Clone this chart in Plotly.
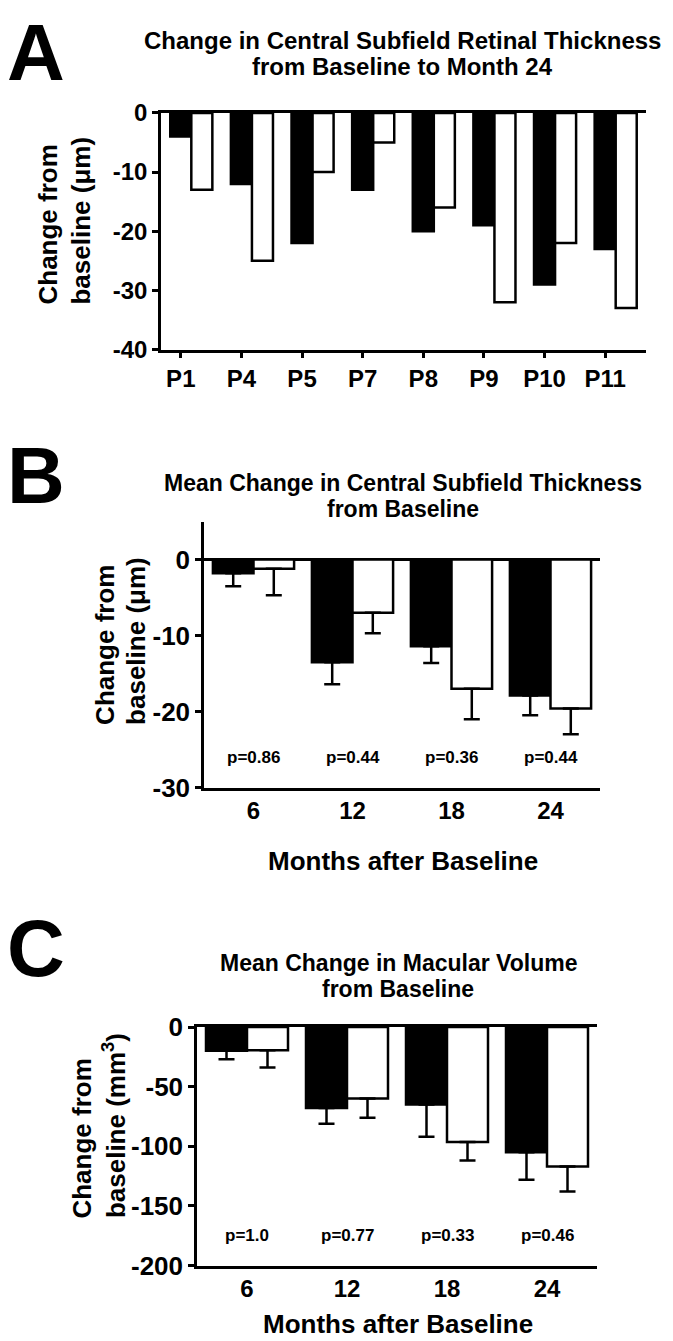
import plotly.graph_objects as go

# ---------------- data ----------------
patients = ["P1", "P4", "P5", "P7", "P8", "P9", "P10", "P11"]
a_black = [-4, -12, -22, -13, -20, -19, -29, -23]
a_white = [-13, -25, -10, -5, -16, -32, -22, -33]
a_ticks = [0, -10, -20, -30, -40]
a_ticktext = ["0", "-10", "-20", "-30", "-40"]

months = ["6", "12", "18", "24"]
b_black = [-1.8, -13.5, -11.4, -17.9]
b_black_err = [1.7, 2.9, 2.2, 2.6]
b_white = [-1.2, -7.0, -17.0, -19.6]
b_white_err = [3.5, 2.7, 4.0, 3.4]
b_pvals = ["p=0.86", "p=0.44", "p=0.36", "p=0.44"]
b_ticks = [0, -10, -20, -30]
b_ticktext = ["0", "-10", "-20", "-30"]

c_black = [-20, -68, -65, -105]
c_black_err = [7, 13, 27, 23]
c_white = [-19.5, -60, -96.5, -117]
c_white_err = [14.5, 16, 15.5, 21]
c_pvals = ["p=1.0", "p=0.77", "p=0.33", "p=0.46"]
c_ticks = [0, -50, -100, -150, -200]
c_ticktext = ["0", "-50", "-100", "-150", "-200"]

W, H = 673, 1341
REG = "Liberation Sans, Arial, sans-serif"
LW = 2.5


def px(x):
    return x / W


def py(y):
    return 1 - y / H


fig = go.Figure()


def bars(x, y, fill, width, offset, xa, ya, err=None):
    kw = {}
    if err is not None:
        kw["error_y"] = dict(type="data", symmetric=False, array=[0] * len(err), arrayminus=err,
                             color="black", thickness=LW, width=8)
    fig.add_trace(go.Bar(x=x, y=y, width=width, offset=offset,
                         marker=dict(color=fill, line=dict(color="black", width=LW)),
                         xaxis=xa, yaxis=ya, showlegend=False, hoverinfo="skip", **kw))


# ---- Panel A ----
ia = list(range(len(patients)))
wa = 0.347
bars(ia, a_black, "black", wa, -wa, "x", "y")
bars(ia, a_white, "white", wa, 0, "x", "y")

# ---- Panel B ----
ib = list(range(len(months)))
wb = 0.41
bars(ib, b_black, "black", wb, -wb, "x2", "y2", b_black_err)
bars(ib, b_white, "white", wb, 0, "x2", "y2", b_white_err)

# ---- Panel C ----
bars(ib, c_black, "black", wb, -wb, "x3", "y3", c_black_err)
bars(ib, c_white, "white", wb, 0, "x3", "y3", c_white_err)

axis_common = dict(showgrid=False, zeroline=False, showline=True, linecolor="black", linewidth=LW,
                   tickcolor="black", tickwidth=LW, fixedrange=True)
tf24 = dict(family=REG, size=24, color="black", weight="bold")
tf26 = dict(family=REG, size=26, color="black", weight="bold")

layout = dict(
    width=W, height=H, margin=dict(l=0, r=0, t=0, b=0),
    paper_bgcolor="white", plot_bgcolor="white", barmode="overlay",
    # Panel A axes
    xaxis=dict(axis_common, domain=[px(153), px(638)], range=[-0.5, len(patients) - 0.5], anchor="y",
               tickmode="array", tickvals=[i - wa / 2 for i in ia], ticktext=patients,
               ticks="outside", ticklen=6, mirror=True, tickfont=tf24),
    yaxis=dict(axis_common, domain=[py(334), py(92)], range=[-40, 0], anchor="x",
               tickmode="array", tickvals=a_ticks, ticktext=a_ticktext, ticks="outside", ticklen=6,
               tickfont=tf24),
    # Panel B axes
    xaxis2=dict(axis_common, domain=[px(196), px(592)], range=[-0.5, len(months) - 0.5], anchor="y2",
                tickmode="array", tickvals=ib, ticktext=months, ticks="", tickfont=tf24),
    yaxis2=dict(axis_common, domain=[py(782), py(510)], range=[-30, 5], anchor="x2",
                tickmode="array", tickvals=b_ticks, ticktext=b_ticktext, ticks="outside", ticklen=6,
                zeroline=True, zerolinecolor="black", zerolinewidth=LW, tickfont=tf26),
    # Panel C axes
    xaxis3=dict(axis_common, domain=[px(189), px(589)], range=[-0.5, len(months) - 0.5], anchor="y3",
                tickmode="array", tickvals=ib, ticktext=months, ticks="", mirror=True, tickfont=tf24),
    yaxis3=dict(axis_common, domain=[py(1271), py(1027)], range=[-200, 0], anchor="x3",
                tickmode="array", tickvals=c_ticks, ticktext=c_ticktext, ticks="outside", ticklen=6,
                tickfont=tf26),
)
fig.update_layout(**layout)

ann = []


def note(text, x, y, size, angle=0, xanchor="center", yanchor="middle", xref="paper", yref="paper"):
    ann.append(dict(text=text, x=x, y=y, xref=xref, yref=yref, showarrow=False, textangle=angle,
                    xanchor=xanchor, yanchor=yanchor,
                    font=dict(family=REG, size=size, color="black", weight="bold")))


# panel letters
note("A", px(-3), py(30), 80, xanchor="left")
note("B", px(-3), py(463), 80, xanchor="left")
note("C", px(-3), py(947), 80, xanchor="left")

# titles (one annotation per line)
note("Change in Central Subfield Retinal Thickness", px(394), py(18), 24)
note("from Baseline to Month 24", px(394), py(45), 24)
note("Mean Change in Central Subfield Thickness", px(395), py(471), 23)
note("from Baseline", px(395), py(497), 23)
note("Mean Change in Macular Volume", px(390), py(962), 23)
note("from Baseline", px(390), py(988), 23)

# y titles (rotated, start-aligned at the bottom)
note("Change from", px(40), py(290), 26, angle=-90, yanchor="bottom")
note("baseline (μm)", px(73), py(290), 26, angle=-90, yanchor="bottom")
note("Change from", px(97), py(720), 26, angle=-90, yanchor="bottom")
note("baseline (μm)", px(128), py(720), 26, angle=-90, yanchor="bottom")
note("Change from", px(74), py(1225), 26, angle=-90, yanchor="bottom")
note("baseline (mm<sup>3</sup>)", px(106), py(1225), 26, angle=-90, yanchor="bottom")

# x titles
note("Months after Baseline", px(395), py(857), 26)
note("Months after Baseline", px(390), py(1331), 26)

# p-values
for i, t in zip(ib, b_pvals):
    note(t, i, -26, 17, xref="x2", yref="y2")
for i, t in zip(ib, c_pvals):
    note(t, i, -175, 17, xref="x3", yref="y3")

fig.update_layout(annotations=ann)
fig.write_html("out.html")
